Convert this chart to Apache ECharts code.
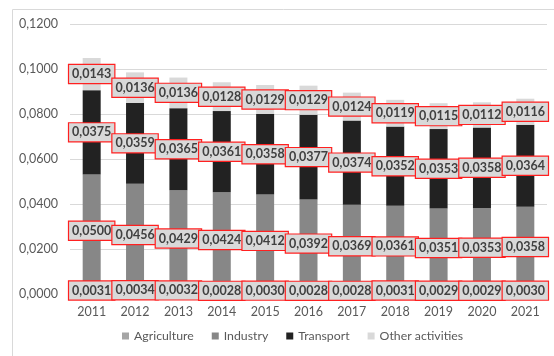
<!DOCTYPE html>
<html>
<head>
<meta charset="utf-8">
<script src="https://cdn.jsdelivr.net/npm/echarts@6/dist/echarts.min.js"></script>
<style>
  html, body { margin: 0; padding: 0; background: #fff; }
  #viz { width: 554px; height: 356px; }
</style>
</head>
<body>
<div id="viz"></div>
<script>
const years = ['2011', '2012', '2013', '2014', '2015', '2016', '2017', '2018', '2019', '2020', '2021']
const agriculture = [0.0031, 0.0034, 0.0032, 0.0028, 0.0030, 0.0028, 0.0028, 0.0031, 0.0029, 0.0029, 0.0030]
const industry = [0.0500, 0.0456, 0.0429, 0.0424, 0.0412, 0.0392, 0.0369, 0.0361, 0.0351, 0.0353, 0.0358]
const transport = [0.0375, 0.0359, 0.0365, 0.0361, 0.0358, 0.0377, 0.0374, 0.0352, 0.0353, 0.0358, 0.0364]
const other = [0.0143, 0.0136, 0.0136, 0.0128, 0.0129, 0.0129, 0.0124, 0.0119, 0.0115, 0.0112, 0.0116]

const font = 'Lato'
const fmt = (v) => v.toFixed(4).replace('.', ',')

const label = {
  show: true,
  position: 'inside',
  formatter: (p) => fmt(p.value),
  backgroundColor: '#d9d9d9',
  borderColor: '#ff2020',
  borderWidth: 1.2,
  padding: [3, 3, 2, 3],
  fontSize: 12.5,
  fontWeight: 'bold',
  fontFamily: font,
  color: '#404040',
}

const mk = (name, data, color) => ({
  name,
  type: 'bar',
  stack: 'total',
  barWidth: 18,
  data,
  itemStyle: { color },
  label,
})

const myChart = echarts.init(document.getElementById('viz'))

myChart.setOption({
  animation: false,
  textStyle: { fontFamily: font },
  graphic: [
    {
      type: 'rect',
      shape: { x: 12.5, y: 9.5, width: 600, height: 400 },
      style: { fill: 'none', stroke: '#d9d9d9', lineWidth: 1 },
      silent: true,
    },
  ],
  grid: { left: 70, right: 7, top: 24, bottom: 62 },
  legend: {
    bottom: 9,
    left: 117,
    itemWidth: 7,
    itemHeight: 7,
    itemGap: 18,
    icon: 'rect',
    textStyle: { color: '#595959', fontSize: 12.3, fontFamily: font },
    data: ['Agriculture', 'Industry', 'Transport', 'Other activities'],
  },
  xAxis: {
    type: 'category',
    data: years,
    axisLine: { show: true, lineStyle: { color: '#d9d9d9' } },
    axisTick: { show: false },
    axisLabel: { color: '#595959', fontSize: 12.5, margin: 11, fontFamily: font },
  },
  yAxis: {
    type: 'value',
    min: 0,
    max: 0.12,
    interval: 0.02,
    axisLine: { show: false },
    axisTick: { show: false },
    splitLine: { lineStyle: { color: '#d9d9d9', width: 1 } },
    axisLabel: { color: '#595959', fontSize: 12.5, margin: 12, formatter: fmt, fontFamily: font },
  },
  series: [
    mk('Agriculture', agriculture, '#a5a5a5'),
    mk('Industry', industry, '#878787'),
    mk('Transport', transport, '#222222'),
    mk('Other activities', other, '#d9d9d9'),
  ],
})
</script>
</body>
</html>
